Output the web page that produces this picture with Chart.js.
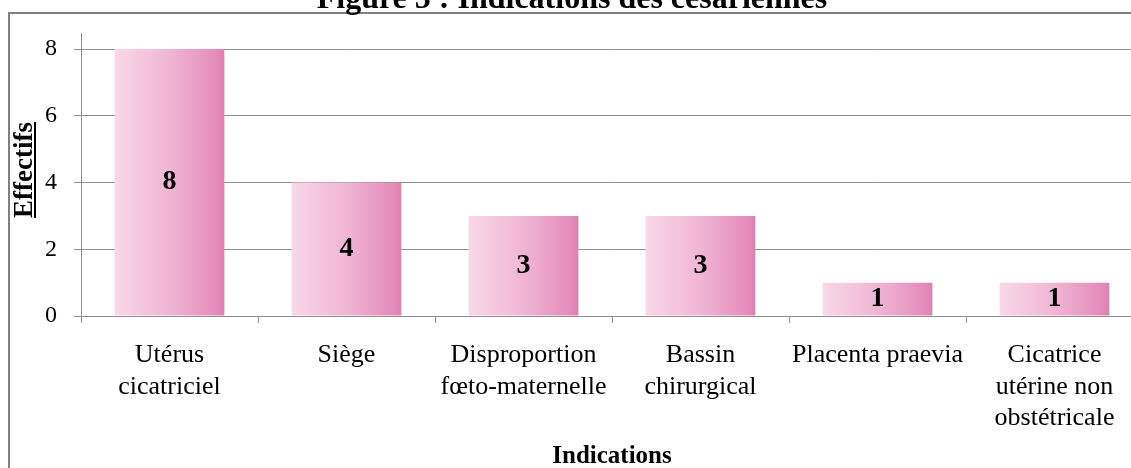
<!DOCTYPE html>
<html>
<head>
<meta charset="utf-8">
<script src="https://cdn.jsdelivr.net/npm/chart.js@4.4.0/dist/chart.umd.min.js"></script>
<style>
  html, body { margin: 0; padding: 0; background: #fff; }
  #wrap { position: relative; width: 1131px; height: 468px; overflow: hidden; }
  #wrap canvas { position: absolute; left: 0; top: 0; }
</style>
</head>
<body>
<div id="wrap"><canvas id="chart" width="1160" height="480" style="width:1160px;height:480px"></canvas></div>
<script>
// chart data
const categories = [
  ['Utérus', 'cicatriciel'],
  ['Siège'],
  ['Disproportion', 'fœto-maternelle'],
  ['Bassin', 'chirurgical'],
  ['Placenta praevia'],
  ['Cicatrice', 'utérine non', 'obstétricale']
];
const effectifs = [8, 4, 3, 3, 1, 1];
const yTicks = [0, 2, 4, 6, 8];
const chartTitle = 'Figure 5 : Indications des césariennes';
const xTitle = 'Indications';
const yTitle = 'Effectifs';

const serif = "'Liberation Serif', 'Times New Roman', serif";
const gridGray = '#8f8f8f';
Chart.defaults.font.family = serif;
Chart.defaults.color = '#000';

// horizontal pink gradient for each bar
function barGradient(ctx) {
  const chart = ctx.chart;
  const xScale = chart.scales.x;
  if (!chart.chartArea || !xScale) return '#efb3d2';
  const cx = xScale.getPixelForValue(ctx.dataIndex);
  const half = (xScale.width / categories.length) * 0.62 / 2;
  const g = chart.ctx.createLinearGradient(cx - half, 0, cx + half, 0);
  g.addColorStop(0, '#f8d8e8');
  g.addColorStop(0.5, '#f0b6d4');
  g.addColorStop(0.93, '#e58cba');
  g.addColorStop(1, '#df7faf');
  return g;
}

// frame, title, y title, value labels
const decorations = {
  id: 'decorations',
  afterDatasetsDraw(chart) {
    const ctx = chart.ctx;
    const meta = chart.getDatasetMeta(0);
    ctx.save();
    ctx.font = "bold 28px " + serif;
    ctx.fillStyle = '#000';
    ctx.textAlign = 'center';
    ctx.textBaseline = 'middle';
    meta.data.forEach((bar, i) => {
      ctx.fillText(String(effectifs[i]), bar.x, (bar.y + bar.base) / 2);
    });
    ctx.restore();
  },
  afterDraw(chart) {
    const ctx = chart.ctx;
    const area = chart.chartArea;
    ctx.save();
    // outer frame (only left and top edges are in view)
    ctx.fillStyle = '#808080';
    ctx.fillRect(8, 12, 2, chart.height);
    ctx.fillRect(8, 12, chart.width, 2);
    // y axis runs a little above the top gridline
    ctx.strokeStyle = gridGray;
    ctx.lineWidth = 1;
    ctx.beginPath();
    ctx.moveTo(area.left + 0.5, 33);
    ctx.lineTo(area.left + 0.5, area.top);
    ctx.stroke();
    // title, cut by the top edge
    ctx.fillStyle = '#000';
    ctx.font = "bold 32px " + serif;
    ctx.textAlign = 'center';
    ctx.textBaseline = 'alphabetic';
    ctx.fillText(chartTitle, 572, 8);
    // underlined y title
    ctx.translate(32, 170);
    ctx.rotate(-Math.PI / 2);
    ctx.font = "bold 27px " + serif;
    ctx.fillText(yTitle, 0, 0);
    const w = ctx.measureText(yTitle).width;
    ctx.fillRect(-w / 2, 2, w, 2);
    ctx.restore();
  }
};

new Chart(document.getElementById('chart'), {
  type: 'bar',
  data: {
    labels: categories,
    datasets: [{
      data: effectifs,
      backgroundColor: barGradient,
      borderWidth: 0,
      categoryPercentage: 1,
      barPercentage: 0.62
    }]
  },
  options: {
    responsive: false,
    animation: false,
    layout: { padding: { left: 0, top: 49, right: 17, bottom: 0 } },
    plugins: {
      legend: { display: false },
      tooltip: { enabled: false }
    },
    scales: {
      x: {
        afterFit: (s) => { s.height = 164; },
        grid: { display: true, drawOnChartArea: false, drawTicks: true, tickLength: 7, color: gridGray },
        border: { color: gridGray, width: 1 },
        ticks: { padding: 17, maxRotation: 0, autoSkip: false, font: { size: 26 }, color: '#000' },
        title: {
          display: true,
          text: xTitle,
          font: { size: 25, weight: 'bold' },
          color: '#000',
          padding: { top: 0, bottom: 8 }
        }
      },
      y: {
        min: 0,
        max: 8,
        afterFit: (s) => { s.width = 81; },
        afterBuildTicks: (s) => { s.ticks = yTicks.map(v => ({ value: v })); },
        grid: { color: gridGray, lineWidth: 1, tickLength: 7 },
        border: { color: gridGray, width: 1 },
        ticks: { padding: 17, font: { size: 24 }, color: '#000' }
      }
    }
  },
  plugins: [decorations]
});
</script>
</body>
</html>
